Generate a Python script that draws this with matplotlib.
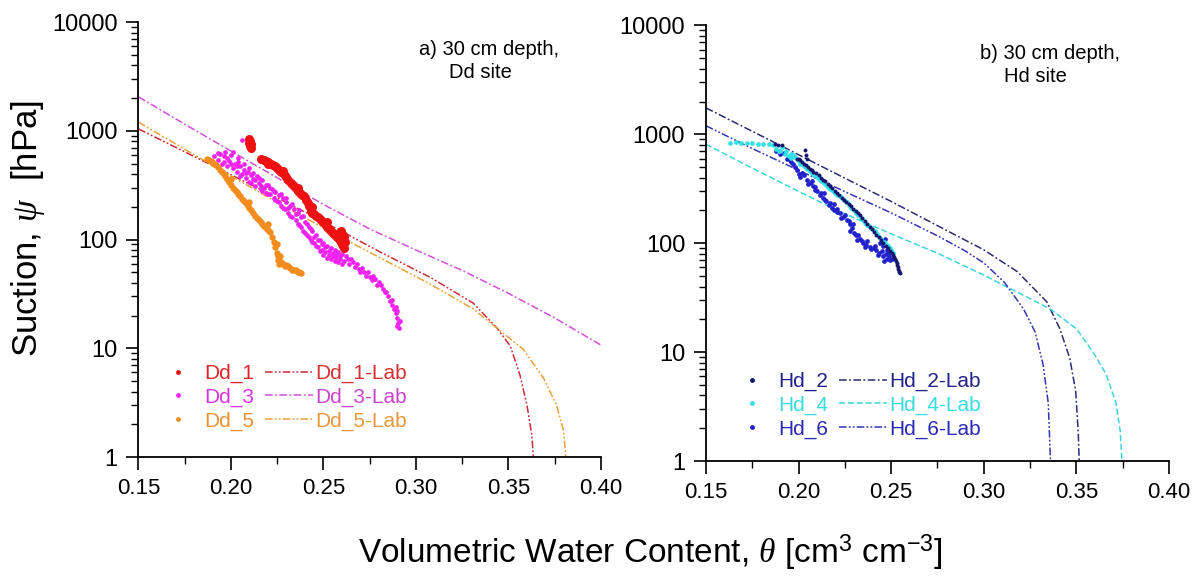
import matplotlib
matplotlib.use('Agg')
import matplotlib.pyplot as plt
from matplotlib.lines import Line2D
from matplotlib.ticker import LogLocator, NullFormatter, MultipleLocator

plt.rcParams['font.family'] = ['Liberation Sans', 'DejaVu Sans']
plt.rcParams['mathtext.fontset'] = 'custom'
plt.rcParams['mathtext.rm'] = 'Liberation Sans'
plt.rcParams['mathtext.it'] = 'Liberation Serif:italic'

# ---------------- Dd site (panel a) ----------------
dd1_theta = [0.2098, 0.2100, 0.2105, 0.2110, 0.2102, 0.2108,
             0.2162, 0.2176, 0.2190, 0.2202, 0.2215, 0.2228, 0.2240, 0.2250, 0.2260,
             0.2272, 0.2285, 0.2298, 0.2310, 0.2322, 0.2333, 0.2344, 0.2355, 0.2365,
             0.2375, 0.2386, 0.2397, 0.2406, 0.2415, 0.2422, 0.2430, 0.2435, 0.2440,
             0.2450, 0.2460, 0.2470, 0.2480, 0.2492, 0.2504, 0.2512, 0.2520, 0.2530,
             0.2540, 0.2549, 0.2558, 0.2566, 0.2575, 0.2582, 0.2590, 0.2596, 0.2600,
             0.2606, 0.2611, 0.2605, 0.2595, 0.2200, 0.2280, 0.2360, 0.2440, 0.2520,
             0.2590, 0.2615, 0.2612]
dd1_psi = [840, 780, 720, 700, 810, 760,
           547, 540, 530, 515, 500, 485, 470, 455, 440,
           420, 400, 375, 350, 330, 315, 302, 290, 277,
           265, 257, 250, 232, 215, 202, 190, 183, 176,
           170, 165, 160, 155, 149, 143, 136, 130, 125,
           120, 116, 112, 108, 105, 101, 98, 94, 90,
           87, 84, 110, 120, 490, 430, 300, 200, 145,
           112, 95, 105]

dd3_theta = [0.191, 0.193, 0.193, 0.195, 0.196, 0.197, 0.198, 0.199, 0.200, 0.201,
             0.202, 0.203, 0.204, 0.205, 0.206, 0.206, 0.207, 0.208, 0.209, 0.210,
             0.211, 0.212, 0.213, 0.214, 0.215, 0.216, 0.217, 0.218, 0.219, 0.220,
             0.221, 0.222, 0.223, 0.224, 0.225, 0.226, 0.227, 0.228, 0.229, 0.230,
             0.231, 0.232, 0.233, 0.234, 0.235, 0.236, 0.237, 0.238, 0.239, 0.240,
             0.241, 0.242, 0.243, 0.244, 0.245, 0.246, 0.247, 0.248, 0.249, 0.250,
             0.251, 0.252, 0.253, 0.254, 0.255, 0.256, 0.257, 0.258, 0.259, 0.260,
             0.261, 0.262, 0.264, 0.265, 0.267, 0.268, 0.270, 0.271, 0.273, 0.274,
             0.276, 0.277, 0.279, 0.280, 0.282, 0.283, 0.285, 0.286, 0.287, 0.288,
             0.289, 0.290, 0.2905, 0.291,
             0.194, 0.196, 0.198, 0.200, 0.201, 0.203, 0.204, 0.205, 0.207, 0.208,
             0.210, 0.211, 0.212, 0.213, 0.215, 0.216, 0.217, 0.219, 0.220, 0.221,
             0.223, 0.224, 0.226, 0.227, 0.228, 0.230, 0.231, 0.232, 0.233, 0.235,
             0.236, 0.237, 0.238, 0.239, 0.240, 0.241, 0.242, 0.243, 0.244, 0.245,
             0.246, 0.247, 0.248, 0.249, 0.250, 0.251, 0.252, 0.253, 0.254, 0.255,
             0.256, 0.257, 0.258, 0.259, 0.260, 0.263, 0.266, 0.269, 0.272, 0.275,
             0.278, 0.281, 0.284, 0.287, 0.289, 0.290, 0.2915, 0.2895]
dd3_psi = [590, 540, 620, 500, 580, 640, 470, 530, 600, 450,
           500, 420, 560, 470, 400, 820, 440, 370, 420, 340,
           390, 360, 310, 380, 330, 290, 350, 300, 270, 320,
           260, 290, 240, 275, 225, 255, 205, 240, 190, 220,
           175, 205, 160, 190, 150, 175, 135, 160, 120, 145,
           110, 130, 100, 120, 92, 110, 85, 100, 80, 92,
           76, 88, 72, 84, 70, 80, 68, 76, 66, 74,
           64, 70, 60, 66, 56, 60, 50, 55, 46, 50,
           42, 46, 38, 41, 35, 33, 30, 27, 25, 23,
           21, 19, 17, 15.5,
           610, 520, 560, 490, 640, 470, 520, 380, 500, 410,
           450, 330, 410, 350, 370, 310, 280, 320, 260, 300,
           280, 230, 220, 260, 195, 240, 195, 165, 210, 170,
           140, 185, 130, 165, 115, 140, 105, 125, 95, 105,
           88, 98, 78, 90, 72, 85, 68, 78, 66, 75,
           64, 72, 62, 70, 60, 66, 62, 54, 50, 45,
           43, 38, 33, 28, 24, 22, 18, 16]

dd5_theta = [0.187, 0.189, 0.191, 0.193, 0.195, 0.197, 0.199, 0.201, 0.203, 0.205,
             0.207, 0.209, 0.211, 0.213, 0.215, 0.217, 0.219, 0.221, 0.223, 0.2248,
             0.2255, 0.226, 0.228, 0.230, 0.232, 0.234, 0.236, 0.2376,
             0.188, 0.190, 0.192, 0.194, 0.196, 0.198, 0.200, 0.202, 0.204, 0.206,
             0.208, 0.210, 0.212, 0.214, 0.216, 0.218, 0.220, 0.222, 0.224, 0.2252,
             0.227, 0.229, 0.231, 0.233, 0.235, 0.237, 0.200, 0.210, 0.220, 0.225,
             0.2265]
dd5_psi = [545, 530, 500, 460, 420, 380, 340, 300, 275, 250,
           225, 205, 185, 165, 150, 138, 128, 118, 95, 75,
           65, 60, 60, 58, 55, 53, 50, 49,
           540, 515, 480, 440, 400, 360, 320, 287, 262, 237,
           215, 195, 175, 157, 144, 133, 123, 106, 85, 70,
           62, 57, 57, 53, 52, 50, 360, 220, 140, 90,
           70]

dd1_lab_theta = [0.15, 0.175, 0.20, 0.225, 0.25, 0.2805, 0.3076, 0.331, 0.3437,
                 0.351, 0.3563, 0.360, 0.3626, 0.3635]
dd1_lab_psi = [1040, 640, 394, 242, 146, 77, 45, 26, 15.4, 10.5, 5.6, 3.0, 1.6, 1.0]

dd3_lab_theta = [0.15, 0.175, 0.20, 0.225, 0.25, 0.275, 0.30, 0.325, 0.35, 0.375, 0.40]
dd3_lab_psi = [2050, 1150, 650, 370, 210, 125, 80, 52, 32, 19, 10.7]

dd5_lab_theta = [0.15, 0.175, 0.20, 0.225, 0.25, 0.2805, 0.3076, 0.331, 0.3455,
                 0.358, 0.369, 0.376, 0.3798, 0.381]
dd5_lab_psi = [1200, 676, 385, 219, 128, 68, 39, 23, 14.5, 9.8, 5.3, 3.0, 1.74, 1.0]

# ---------------- Hd site (panel b) ----------------
hd2_theta = [0.187, 0.189, 0.191, 0.2035, 0.204, 0.2045,
             0.199, 0.201, 0.203, 0.205, 0.207, 0.2095, 0.212, 0.2145, 0.217,
             0.2195, 0.222, 0.2245, 0.227, 0.2295, 0.232, 0.2345, 0.237, 0.2395,
             0.242, 0.2445, 0.247, 0.2495, 0.251, 0.252, 0.253, 0.2535, 0.254, 0.2545,
             0.200, 0.202, 0.204, 0.206, 0.208, 0.2108, 0.2133, 0.2158, 0.2183,
             0.2208, 0.2233, 0.2258, 0.2283, 0.2308, 0.2333, 0.2358, 0.2383, 0.2408,
             0.2433, 0.2458, 0.2483, 0.2502, 0.2515, 0.2525, 0.2532, 0.2538, 0.2542]
hd2_psi = [810, 805, 800, 720, 650, 600,
           600, 580, 540, 500, 470, 440, 400, 370, 335,
           305, 275, 250, 228, 208, 190, 170, 150, 135,
           120, 107, 95, 85, 78, 72, 66, 60, 56, 53,
           590, 560, 520, 485, 455, 420, 385, 352, 320,
           290, 262, 238, 218, 199, 180, 160, 142, 127,
           113, 101, 90, 82, 75, 69, 63, 58, 55]

hd4_theta = [0.163, 0.166, 0.169, 0.172, 0.175, 0.178, 0.181, 0.184, 0.186, 0.188,
             0.190, 0.1925, 0.195, 0.197, 0.199, 0.201, 0.2035, 0.206, 0.2085, 0.211,
             0.2135, 0.216, 0.2185, 0.221, 0.2235, 0.226, 0.2285, 0.231, 0.2335, 0.236,
             0.2385, 0.241, 0.2435, 0.246, 0.2485, 0.250, 0.251,
             0.196, 0.198, 0.200, 0.2022, 0.2047, 0.2072, 0.2097, 0.2122, 0.2147,
             0.2172, 0.2197, 0.2222, 0.2247, 0.2272, 0.2297, 0.2322, 0.2347, 0.2372,
             0.2397, 0.2422, 0.2447, 0.2472, 0.2495, 0.193, 0.191, 0.1895, 0.196]
hd4_psi = [840, 850, 840, 830, 825, 820, 815, 810, 800, 740,
           700, 660, 630, 640, 590, 540, 500, 460, 420, 390,
           357, 330, 300, 280, 260, 240, 210, 190, 170, 155,
           142, 130, 115, 103, 94, 86, 81,
           610, 615, 565, 520, 480, 440, 405, 373, 343,
           315, 290, 270, 250, 225, 200, 180, 162, 148,
           136, 122, 109, 98, 90, 700, 760, 700, 660]

hd6_theta = [0.188, 0.190, 0.192, 0.194, 0.1955, 0.197, 0.199, 0.200, 0.201, 0.203,
             0.2045, 0.206, 0.208, 0.209, 0.210, 0.2115, 0.213, 0.2135, 0.215, 0.2165,
             0.218, 0.219, 0.2205, 0.2225, 0.224, 0.226, 0.2275, 0.229, 0.2295, 0.231,
             0.2315, 0.233, 0.235, 0.2365, 0.2385, 0.2405, 0.242, 0.2435, 0.2455, 0.2475,
             0.2485, 0.2495, 0.2475, 0.2455, 0.244, 0.2465,
             0.196, 0.198, 0.202, 0.205, 0.207, 0.209, 0.212, 0.214, 0.217, 0.219,
             0.221, 0.223, 0.225, 0.227, 0.228, 0.230, 0.232, 0.234, 0.236, 0.237,
             0.239, 0.241, 0.243, 0.245, 0.247, 0.249, 0.2505, 0.246, 0.2485]
hd6_psi = [700, 660, 680, 600, 585, 540, 475, 430, 410, 420,
           384, 360, 333, 310, 300, 279, 260, 290, 243, 225,
           210, 230, 195, 189, 175, 164, 150, 137, 150, 120,
           107, 110, 100, 96, 93, 90, 87, 82, 76, 72,
           80, 70, 87, 95, 100, 110,
           560, 500, 440, 350, 370, 330, 290, 250, 235, 200,
           205, 170, 180, 160, 130, 125, 118, 105, 92, 105,
           88, 95, 78, 85, 80, 76, 72, 68, 92]

hd2_lab_theta = [0.15, 0.175, 0.20, 0.225, 0.25, 0.275, 0.30, 0.318,
                 0.334, 0.341, 0.3464, 0.3496, 0.351, 0.3515]
hd2_lab_psi = [1750, 1067, 650, 396, 242, 145, 87, 55, 29, 16.5, 8.8, 4.4, 1.8, 1.0]

hd4_lab_theta = [0.15, 0.175, 0.20, 0.225, 0.25, 0.275, 0.30, 0.3357,
                 0.35, 0.359, 0.366, 0.3714, 0.3736, 0.3746]
hd4_lab_psi = [810, 490, 299, 186, 122, 81, 51, 25, 16.4, 10, 6.3, 3.4, 1.9, 1.0]

hd6_lab_theta = [0.15, 0.175, 0.20, 0.225, 0.25, 0.275, 0.29, 0.30, 0.311,
                 0.3214, 0.3277, 0.332, 0.3348, 0.336]
hd6_lab_psi = [1200, 741, 468, 298, 190, 117, 85, 66, 44, 25, 15.3, 7.7, 3.4, 1.0]

x_ticks = [0.15, 0.20, 0.25, 0.30, 0.35, 0.40]
y_ticks = [1, 10, 100, 1000, 10000]
y_ticklabels = ['1', '10', '100', '1000', '10000']

DASHDOT = (0, (5, 1.6, 1.2, 1.6))
DASHDOTDOT = (0, (5, 1.4, 1.2, 1.4, 1.2, 1.4))
DASHED = (0, (4, 1.8))

fig = plt.figure(figsize=(11.99, 5.78), dpi=100)
ax1 = fig.add_axes([0.1155, 0.2093, 0.3857, 0.7526])
ax2 = fig.add_axes([0.5888, 0.2024, 0.3862, 0.7535])


def style_axes(ax):
    ax.set_yscale('log')
    ax.set_xlim(0.15, 0.40)
    ax.set_ylim(1, 10000)
    ax.set_xticks(x_ticks)
    ax.set_xticklabels(['%.2f' % v for v in x_ticks])
    ax.xaxis.set_minor_locator(MultipleLocator(0.025))
    ax.set_yticks(y_ticks)
    ax.set_yticklabels(y_ticklabels)
    ax.yaxis.set_minor_locator(LogLocator(base=10, subs=range(2, 10)))
    ax.yaxis.set_minor_formatter(NullFormatter())
    for s in ['top', 'right']:
        ax.spines[s].set_visible(False)
    for s in ['left', 'bottom']:
        ax.spines[s].set_linewidth(1.3)
    ax.tick_params(axis='both', which='major', direction='out', length=9,
                   width=1.2, pad=6)
    ax.tick_params(axis='y', which='major', labelsize=17)
    ax.tick_params(axis='x', which='major', labelsize=16)
    ax.tick_params(axis='both', which='minor', direction='out', length=5, width=1.0)


legend_kw = dict(ncol=2, loc='upper left', frameon=False, fontsize=15,
                 borderpad=0, borderaxespad=0, handlelength=2.3,
                 handletextpad=0.12, columnspacing=0.5, labelspacing=0.22)

# panel a
l1, = ax1.plot(dd1_lab_theta, dd1_lab_psi, color='#cf2a3a', lw=1.1, linestyle=DASHDOTDOT)
l3, = ax1.plot(dd3_lab_theta, dd3_lab_psi, color='#d24fd6', lw=1.1, linestyle=DASHDOT)
l5, = ax1.plot(dd5_lab_theta, dd5_lab_psi, color='#e9a03a', lw=1.1, linestyle=DASHDOTDOT)
ax1.plot(dd3_theta, dd3_psi, linestyle='none', marker='o', ms=3.4, mew=0, color='#f022f0')
ax1.plot(dd5_theta, dd5_psi, linestyle='none', marker='o', ms=4.6, mew=0, color='#f28c1c')
ax1.plot(dd1_theta, dd1_psi, linestyle='none', marker='o', ms=6.5, mew=0, color='#ee1111')
style_axes(ax1)

p1 = Line2D([], [], linestyle='none', marker='o', ms=3.5, mew=0, color='#ee1111')
p3 = Line2D([], [], linestyle='none', marker='o', ms=3.5, mew=0, color='#f022f0')
p5 = Line2D([], [], linestyle='none', marker='o', ms=3.5, mew=0, color='#f28c1c')
ax1.legend([p1, p3, p5, l1, l3, l5],
           ['Dd_1', 'Dd_3', 'Dd_5', 'Dd_1-Lab', 'Dd_3-Lab', 'Dd_5-Lab'],
           bbox_to_anchor=(0.0335, 0.214),
           labelcolor=['#e0242a', '#dd33dd', '#ec9030', '#d83030', '#cc44cc', '#e89838'],
           **legend_kw)
ax1.text(0.6065, 0.958, 'a) 30 cm depth,', transform=ax1.transAxes,
         fontsize=14.5, ha='left', va='top')
ax1.text(0.6724, 0.905, 'Dd site', transform=ax1.transAxes,
         fontsize=14.5, ha='left', va='top')

# panel b
m2, = ax2.plot(hd2_lab_theta, hd2_lab_psi, color='#2b2b72', lw=1.1, linestyle=DASHDOT)
m4, = ax2.plot(hd4_lab_theta, hd4_lab_psi, color='#3fd4dc', lw=1.1, linestyle=DASHED)
m6, = ax2.plot(hd6_lab_theta, hd6_lab_psi, color='#3535b0', lw=1.1, linestyle=DASHDOTDOT)
ax2.plot(hd6_theta, hd6_psi, linestyle='none', marker='o', ms=3.4, mew=0, color='#2222cc')
ax2.plot(hd4_theta, hd4_psi, linestyle='none', marker='o', ms=3.4, mew=0, color='#33e0e4')
ax2.plot(hd2_theta, hd2_psi, linestyle='none', marker='o', ms=2.8, mew=0, color='#16166e')
style_axes(ax2)

q2 = Line2D([], [], linestyle='none', marker='o', ms=3.5, mew=0, color='#16166e')
q4 = Line2D([], [], linestyle='none', marker='o', ms=3.5, mew=0, color='#33e0e4')
q6 = Line2D([], [], linestyle='none', marker='o', ms=3.5, mew=0, color='#2222cc')
ax2.legend([q2, q4, q6, m2, m4, m6],
           ['Hd_2', 'Hd_4', 'Hd_6', 'Hd_2-Lab', 'Hd_4-Lab', 'Hd_6-Lab'],
           bbox_to_anchor=(0.0475, 0.2045),
           labelcolor=['#22228a', '#35dde0', '#2a2ab8', '#22228a', '#35dde0', '#2a2ab8'],
           **legend_kw)
ax2.text(0.592, 0.958, 'b) 30 cm depth,', transform=ax2.transAxes,
         fontsize=14.5, ha='left', va='top')
ax2.text(0.6436, 0.905, 'Hd site', transform=ax2.transAxes,
         fontsize=14.5, ha='left', va='top')

fig.text(28 / 1199, 1 - 229 / 578, r'Suction, $\psi$  [hPa]', rotation=90,
         fontsize=25, ha='center', va='center')
fig.text(650 / 1199, 1 - 553 / 578,
         r'Volumetric Water Content, $\theta$ [cm$^{3}$ cm$^{-3}$]',
         fontsize=24, ha='center', va='center')

fig.savefig('out.png', dpi=100)
